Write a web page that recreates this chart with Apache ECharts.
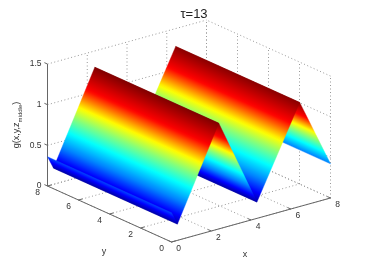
<!DOCTYPE html>
<html><head><meta charset="utf-8">
<style>html,body{margin:0;padding:0;background:#fff}#c{width:366px;height:271px;filter:blur(0.3px)}</style>
<script src="https://cdn.jsdelivr.net/npm/echarts@6/dist/echarts.min.js"></script>
</head><body><div id="c"></div>
<script>
// Values
const titleText = 'τ=13';
const xTicks = [0, 2, 4, 6, 8];
const yTicks = [0, 2, 4, 6, 8];
const zTicks = [0, 0.5, 1, 1.5];
const zTickLabels = ['0', '0.5', '1', '1.5'];
const profileX = [0, 0.3, 2.38, 4.3, 6.45, 8];   // surface cross-section: x
const profileG = [0.36, 0.2, 1.3, 0.2, 1.28, 0.42]; // surface cross-section: g
const surfaceY = [0, 8];
// colour scale: g value -> jet position
const colorG = [0.2, 0.29, 0.42, 0.585, 0.73, 0.86, 0.96, 1.06, 1.3];
const colorT = [0.04, 0.125, 0.25, 0.375, 0.5, 0.625, 0.75, 0.875, 1];

// Projection of the MATLAB view
const origin = [171.5, 242], ex = [159 / 8, -44 / 8], ey = [-124 / 8, -56 / 8], ez = 81.3;
const P = (x, y, z) => [origin[0] + x * ex[0] + y * ey[0], origin[1] + x * ex[1] + y * ey[1] - z * ez];

function toT(g) {
  if (g <= colorG[0]) return colorT[0];
  for (let i = 1; i < colorG.length; i++) {
    if (g <= colorG[i]) return colorT[i - 1] + (colorT[i] - colorT[i - 1]) * (g - colorG[i - 1]) / (colorG[i] - colorG[i - 1]);
  }
  return 1;
}
function jet(t) {
  t = Math.max(0, Math.min(1, t));
  const c = v => Math.round(255 * Math.max(0, Math.min(1, v)));
  const r = 1.5 - Math.abs(4 * t - 3), g = 1.5 - Math.abs(4 * t - 2), b = 1.5 - Math.abs(4 * t - 1);
  return `rgb(${c(r)},${c(g)},${c(b)})`;
}

const gridLines = [];
const X = xTicks[xTicks.length - 1], Y = yTicks[yTicks.length - 1], Z = zTicks[zTicks.length - 1];
xTicks.forEach(v => { gridLines.push([v, 0, 0, v, Y, 0]); gridLines.push([v, Y, 0, v, Y, Z]); });
yTicks.forEach(v => { gridLines.push([0, v, 0, X, v, 0]); gridLines.push([X, v, 0, X, v, Z]); });
zTicks.forEach(v => { gridLines.push([0, Y, v, X, Y, v]); gridLines.push([X, 0, v, X, Y, v]); });

const axisLines = [[0, Y, 0, 0, Y, Z], [0, 0, 0, 0, Y, 0], [0, 0, 0, X, 0, 0]];
xTicks.forEach(v => axisLines.push([v, 0, 0, v, 0.2, 0]));
yTicks.forEach(v => axisLines.push([0, v, 0, 0.2, v, 0]));
zTicks.forEach(v => axisLines.push([0, Y, v, 0, Y + 0.2, v]));

const labels = [];
xTicks.forEach(v => { const p = P(v, 0, 0); labels.push([String(v), p[0] + 7, p[1] + 7]); });
yTicks.forEach(v => { const p = P(0, v, 0); labels.push([String(v), p[0] - 10, p[1] + 7]); });
zTicks.forEach((v, i) => { const p = P(0, Y, v); labels.push([zTickLabels[i], p[0] - 6, p[1], 'right']); });

const segs = [];
for (let i = profileX.length - 2; i >= 0; i--) segs.push(i);

const lineSeries = (data, style, z) => ({
  type: 'custom', coordinateSystem: 'cartesian2d', data, clip: false, z, silent: true,
  renderItem: (params, api) => {
    const d = data[params.dataIndex];
    const a = api.coord(P(d[0], d[1], d[2])), b = api.coord(P(d[3], d[4], d[5]));
    return { type: 'line', shape: { x1: a[0], y1: a[1], x2: b[0], y2: b[1] }, style };
  }
});

const option = {
  animation: false,
  backgroundColor: '#fff',
  title: { text: titleText, left: 189, textAlign: 'center', top: 3,
    textStyle: { fontFamily: 'Liberation Sans', fontSize: 13, fontWeight: 'normal', color: '#222' } },
  grid: { left: 0, right: 0, top: 0, bottom: 0 },
  xAxis: { type: 'value', min: 0, max: 366, show: false },
  yAxis: { type: 'value', min: 0, max: 271, inverse: true, show: false },
  series: [
    lineSeries(gridLines, { stroke: '#999', lineWidth: 1, lineDash: [1, 2.5] }, 1),
    lineSeries(axisLines, { stroke: '#666', lineWidth: 1 }, 2),
    {
      type: 'custom', coordinateSystem: 'cartesian2d', data: segs, clip: false, z: 3, silent: true,
      renderItem: (params, api) => {
        const i = segs[params.dataIndex];
        const x0 = profileX[i], x1 = profileX[i + 1], g0 = profileG[i], g1 = profileG[i + 1];
        const pts = [[x0, surfaceY[0], g0], [x1, surfaceY[0], g1], [x1, surfaceY[1], g1], [x0, surfaceY[1], g0]]
          .map(q => api.coord(P(q[0], q[1], q[2])));
        // gradient vector perpendicular to the iso-colour lines
        const dx = pts[3][0] - pts[0][0], dy = pts[3][1] - pts[0][1], len = Math.hypot(dx, dy);
        const nx = -dy / len, ny = dx / len;
        const wx = pts[1][0] - pts[0][0], wy = pts[1][1] - pts[0][1], w = wx * nx + wy * ny;
        const stops = [];
        for (let k = 0; k <= 48; k++) {
          const f = k / 48;
          stops.push({ offset: f, color: jet(toT(g0 + (g1 - g0) * f)) });
        }
        const fill = new echarts.graphic.LinearGradient(
          pts[0][0], pts[0][1], pts[0][0] + nx * w, pts[0][1] + ny * w, stops, true);
        return { type: 'polygon', shape: { points: pts }, style: { fill, stroke: fill, lineWidth: 0.4 } };
      }
    },
    {
      type: 'custom', coordinateSystem: 'cartesian2d', data: labels, clip: false, z: 4, silent: true,
      renderItem: (params, api) => {
        const d = labels[params.dataIndex];
        const p = api.coord([d[1], d[2]]);
        return { type: 'text', x: p[0], y: p[1], style: {
          text: d[0], fill: '#333', fontFamily: 'Liberation Sans', fontSize: 8.5,
          align: d[3] || 'center', verticalAlign: 'middle' } };
      }
    }
  ],
  graphic: [
    { type: 'text', x: 245, y: 255, style: { text: 'x', fill: '#333', fontFamily: 'Liberation Sans', fontSize: 9, align: 'center', verticalAlign: 'middle' } },
    { type: 'text', x: 104, y: 252, style: { text: 'y', fill: '#333', fontFamily: 'Liberation Sans', fontSize: 9, align: 'center', verticalAlign: 'middle' } },
    { type: 'text', x: 17, y: 125, rotation: Math.PI / 2, style: {
      text: '{m|g(x,y,z}{s|middle}{m|)}', align: 'center', verticalAlign: 'middle',
      rich: {
        m: { fontFamily: 'Liberation Sans', fontSize: 9, fill: '#333', lineHeight: 12, verticalAlign: 'middle' },
        s: { fontFamily: 'Liberation Sans', fontSize: 6, fill: '#333', lineHeight: 12, verticalAlign: 'bottom', padding: [4, 0, 0, 0] }
      } } }
  ]
};
echarts.init(document.getElementById('c'), null, { renderer: 'canvas' }).setOption(option);
</script></body></html>
